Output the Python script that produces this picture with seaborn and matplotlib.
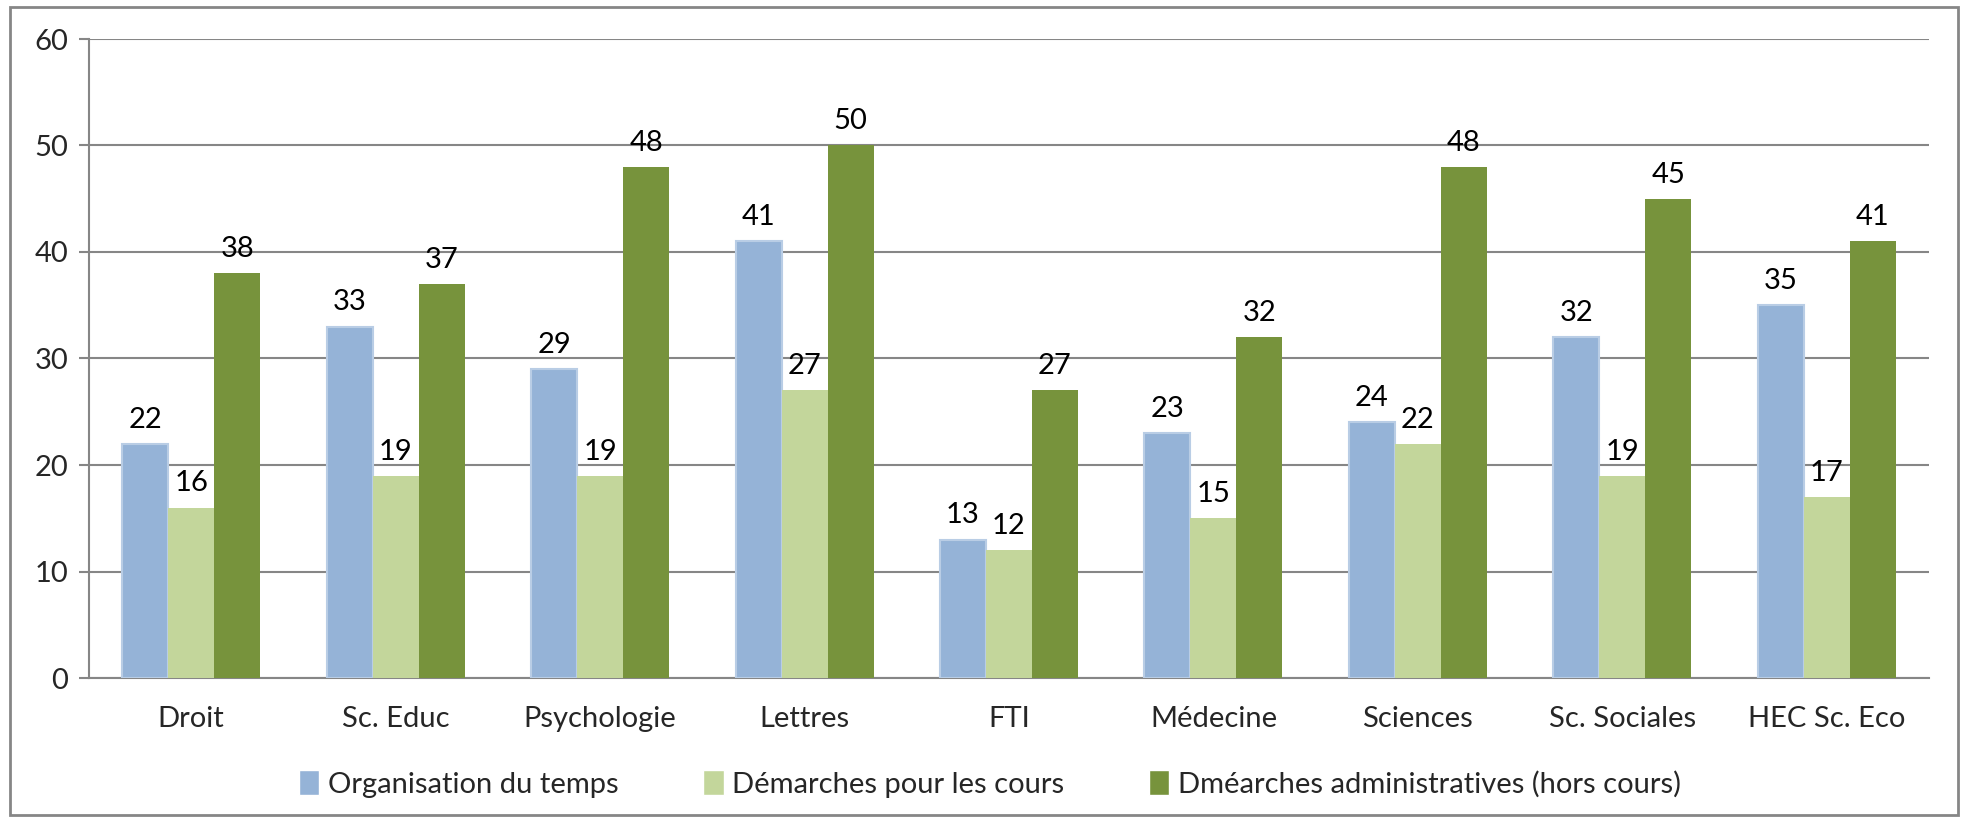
import pandas as pd
import seaborn as sns
import matplotlib.pyplot as plt
from matplotlib.patches import Rectangle

# Données
facultes = ["Droit", "Sc. Educ", "Psychologie", "Lettres", "FTI",
            "Médecine", "Sciences", "Sc. Sociales", "HEC Sc. Eco"]
organisation = [22, 33, 29, 41, 13, 23, 24, 32, 35]
demarches_cours = [16, 19, 19, 27, 12, 15, 22, 19, 17]
demarches_admin = [38, 37, 48, 50, 27, 32, 48, 45, 41]
series = ["Organisation du temps", "Démarches pour les cours",
          "Dméarches administratives (hors cours)"]
couleurs = ["#95B3D7", "#C3D69B", "#77933C"]

df = pd.DataFrame({
    "fac": facultes * 3,
    "val": organisation + demarches_cours + demarches_admin,
    "serie": [series[0]] * 9 + [series[1]] * 9 + [series[2]] * 9,
})

sns.set_style("white")
plt.rcParams["font.family"] = ["Lato", "DejaVu Sans"]

fig = plt.figure(figsize=(19.63, 8.22), dpi=100)
ax = fig.add_axes([89 / 1963, 1 - 678 / 822, (1929 - 89) / 1963, (678 - 39) / 822])

sns.barplot(data=df, x="fac", y="val", hue="serie", palette=couleurs,
            width=0.675, saturation=1, ax=ax, zorder=3)

# bordure claire des barres bleues, pas de bordure pour les vertes
for patch in ax.containers[0]:
    patch.set_edgecolor("#B9CDE5")
    patch.set_linewidth(1.5)
for cont in ax.containers[1:]:
    for patch in cont:
        patch.set_linewidth(0)

for cont in ax.containers:
    ax.bar_label(cont, padding=8, fontsize=21, color="black")

ax.set_ylim(0, 60)
ax.set_yticks(range(0, 61, 10))
ax.set_xlim(-0.5, 8.5)
ax.set_xlabel("")
ax.set_ylabel("")
ax.grid(axis="y", color="#868686", linewidth=1.5, zorder=0)
ax.set_axisbelow(True)

for s in ["top", "right"]:
    ax.spines[s].set_visible(False)
for s in ["left", "bottom"]:
    ax.spines[s].set_color("#868686")
    ax.spines[s].set_linewidth(1.5)

ax.set_xticks([i - 0.5 for i in range(10)], minor=True)
ax.tick_params(axis="x", which="major", length=0, labelsize=21, pad=20)
ax.tick_params(axis="x", which="minor", length=7, width=1.5, color="#868686", direction="out")
ax.tick_params(axis="y", length=7, width=1.5, color="#868686", direction="out",
               labelsize=21, pad=8, left=True)

leg = ax.legend(loc="center", bbox_to_anchor=(990 / 1963, 1 - 784 / 822),
                bbox_transform=fig.transFigure, ncol=3, frameon=False,
                fontsize=21, handlelength=0.7, handleheight=0.9,
                handletextpad=0.3, columnspacing=2.9)

fig.patches.append(Rectangle((10 / 1963, 7 / 822), (1958 - 10) / 1963, (815 - 7) / 822,
                             transform=fig.transFigure, fill=False,
                             edgecolor="#868686", linewidth=2))

fig.savefig("out.png", dpi=100)
